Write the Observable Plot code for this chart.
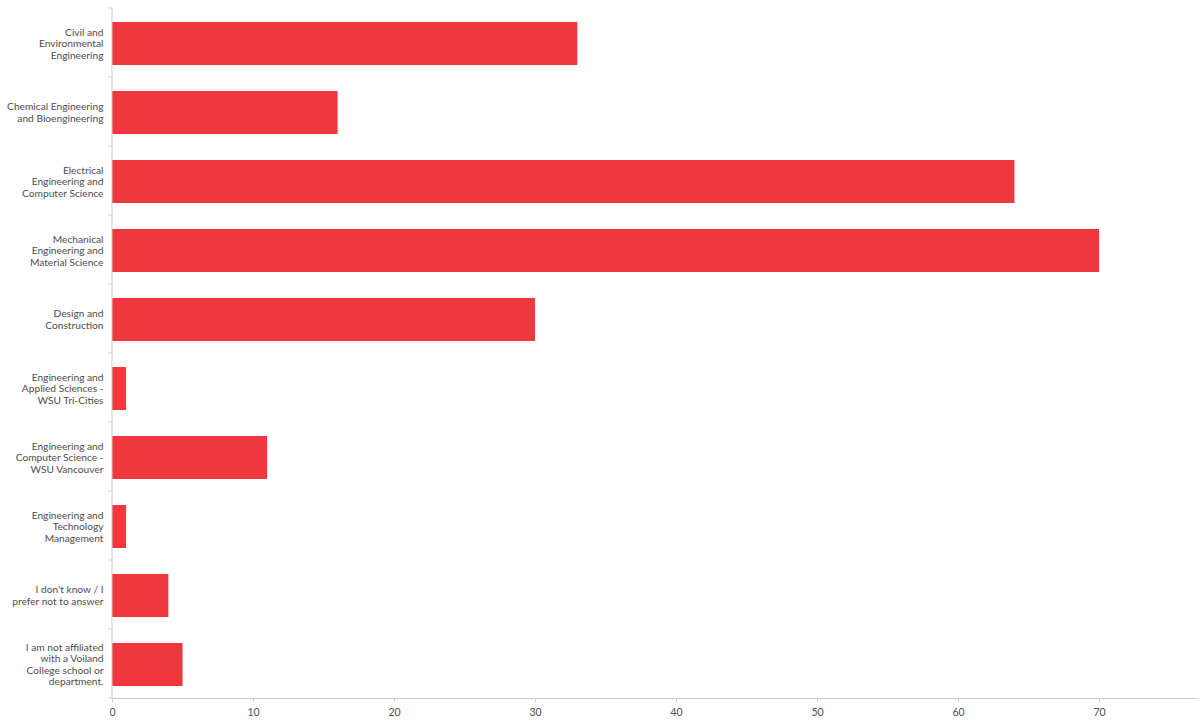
<!DOCTYPE html>
<html>
<head>
<meta charset="utf-8">
<script src="https://cdn.jsdelivr.net/npm/d3@7"></script>
<script src="https://cdn.jsdelivr.net/npm/@observablehq/plot@0.6"></script>
<style>
  html, body { margin: 0; padding: 0; background: #fff; }
  #chart svg { display: block; }
</style>
</head>
<body>
<div id="chart"></div>
<script>
const categories = [
  "Civil and Environmental Engineering",
  "Chemical Engineering and Bioengineering",
  "Electrical Engineering and Computer Science",
  "Mechanical Engineering and Material Science",
  "Design and Construction",
  "Engineering and Applied Sciences - WSU Tri-Cities",
  "Engineering and Computer Science - WSU Vancouver",
  "Engineering and Technology Management",
  "I don't know / I prefer not to answer",
  "I am not affiliated with a Voiland College school or department."
];
const labelLines = [
  "Civil and\nEnvironmental\nEngineering",
  "Chemical Engineering\nand Bioengineering",
  "Electrical\nEngineering and\nComputer Science",
  "Mechanical\nEngineering and\nMaterial Science",
  "Design and\nConstruction",
  "Engineering and\nApplied Sciences -\nWSU Tri-Cities",
  "Engineering and\nComputer Science -\nWSU Vancouver",
  "Engineering and\nTechnology\nManagement",
  "I don't know / I\nprefer not to answer",
  "I am not affiliated\nwith a Voiland\nCollege school or\ndepartment."
];
const counts = [33, 16, 64, 70, 30, 1, 11, 1, 4, 5];
const xTicks = [0, 10, 20, 30, 40, 50, 60, 70];

const data = categories.map((c, i) => ({category: c, count: counts[i]}));
const labelOf = new Map(categories.map((c, i) => [c, labelLines[i]]));

const axisColor = "#cfcfcf";
const textColor = "#4d4d4d";

const boundaryTicks = (index, scales, values, dimensions) => {
  const g = d3.create("svg:g");
  const y = scales.y;
  const x0 = dimensions.marginLeft;
  const ys = categories.map(c => y(c));
  ys.push(dimensions.height - dimensions.marginBottom);
  for (const yy of ys) {
    g.append("line")
      .attr("x1", x0 - 4).attr("x2", x0)
      .attr("y1", yy).attr("y2", yy)
      .attr("stroke", axisColor);
  }
  g.append("line")
    .attr("x1", x0).attr("x2", x0)
    .attr("y1", dimensions.marginTop).attr("y2", dimensions.height - dimensions.marginBottom)
    .attr("stroke", axisColor);
  return g.node();
};

const chart = Plot.plot({
  width: 1201,
  height: 726,
  marginTop: 8,
  marginBottom: 28,
  marginLeft: 112,
  marginRight: 4,
  style: {fontFamily: "Lato, sans-serif", fontSize: "11px", color: textColor, background: "#fff"},
  x: {domain: [0, 76.95], label: null},
  y: {domain: categories, padding: 0, label: null},
  marks: [
    Plot.barX(data, {x: "count", y: "category", fill: "#EF383D", insetTop: 14, insetBottom: 12}),
    Plot.axisY({
      tickSize: 0,
      tickPadding: 9,
      tickFormat: d => labelOf.get(d),
      lineHeight: 1.12,
      fill: textColor,
      fontSize: 10.2,
      dy: 0.5,
      label: null
    }),
    boundaryTicks,
    Plot.axisX({
      ticks: xTicks,
      tickSize: 4,
      tickPadding: 6,
      stroke: axisColor,
      fill: textColor,
      fontSize: 10.5,
      label: null
    }),
    Plot.frame({anchor: "bottom", stroke: axisColor})
  ]
});
document.getElementById("chart").appendChild(chart);
</script>
</body>
</html>
